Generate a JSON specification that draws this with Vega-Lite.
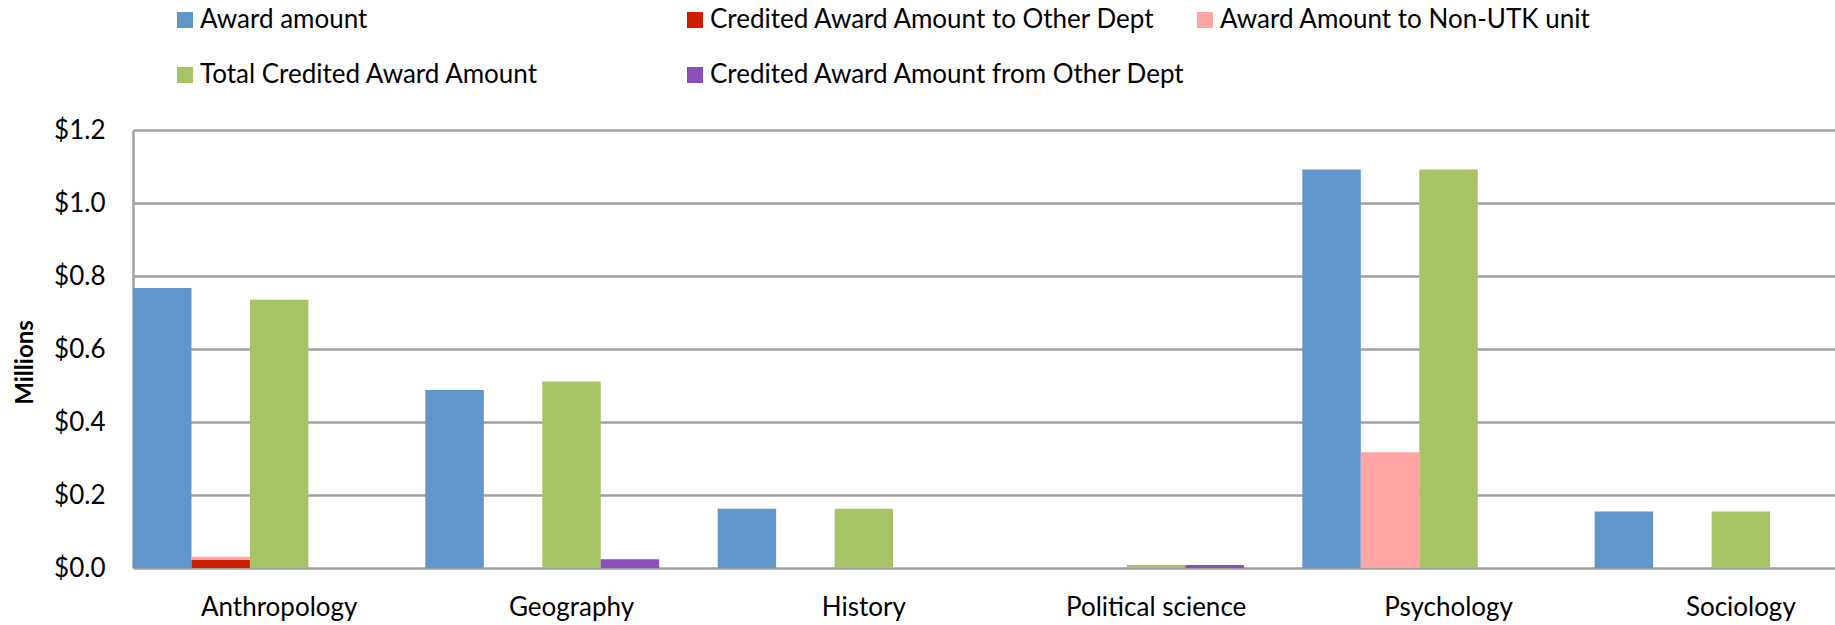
{
  "$schema": "https://vega.github.io/schema/vega-lite/v6.json",
  "width": 1695,
  "height": 438,
  "autosize": {"type": "none"},
  "padding": {"left": 133, "top": 130, "right": 7, "bottom": 57},
  "background": "white",
  "data": {
    "values": [
      {"dept": "Anthropology", "series": "Award amount", "slot": "s1", "value": 0.767},
      {"dept": "Anthropology", "series": "Award Amount to Non-UTK unit", "slot": "s2", "value": 0.031},
      {"dept": "Anthropology", "series": "Credited Award Amount to Other Dept", "slot": "s2", "value": 0.022},
      {"dept": "Anthropology", "series": "Total Credited Award Amount", "slot": "s3", "value": 0.735},
      {"dept": "Geography", "series": "Award amount", "slot": "s1", "value": 0.488},
      {"dept": "Geography", "series": "Total Credited Award Amount", "slot": "s3", "value": 0.511},
      {"dept": "Geography", "series": "Credited Award Amount from Other Dept", "slot": "s4", "value": 0.024},
      {"dept": "History", "series": "Award amount", "slot": "s1", "value": 0.162},
      {"dept": "History", "series": "Total Credited Award Amount", "slot": "s3", "value": 0.162},
      {"dept": "Political science", "series": "Total Credited Award Amount", "slot": "s3", "value": 0.008},
      {"dept": "Political science", "series": "Credited Award Amount from Other Dept", "slot": "s4", "value": 0.008},
      {"dept": "Psychology", "series": "Award amount", "slot": "s1", "value": 1.092},
      {"dept": "Psychology", "series": "Award Amount to Non-UTK unit", "slot": "s2", "value": 0.317},
      {"dept": "Psychology", "series": "Total Credited Award Amount", "slot": "s3", "value": 1.092},
      {"dept": "Sociology", "series": "Award amount", "slot": "s1", "value": 0.155},
      {"dept": "Sociology", "series": "Total Credited Award Amount", "slot": "s3", "value": 0.155}
    ]
  },
  "mark": {"type": "bar"},
  "encoding": {
    "x": {
      "field": "dept",
      "type": "nominal",
      "sort": null,
      "scale": {"range": [0, 1754], "paddingInner": 0, "paddingOuter": 0},
      "axis": {
        "title": null,
        "domain": false,
        "ticks": false,
        "labelAngle": 0,
        "labelFont": "Lato",
        "labelFontSize": 26,
        "labelColor": "#000000",
        "labelPadding": 26,
        "labelLimit": 0
      }
    },
    "xOffset": {
      "field": "slot",
      "type": "nominal",
      "scale": {"domain": ["s1", "s2", "s3", "s4", "s5"], "paddingInner": 0, "paddingOuter": 0}
    },
    "y": {
      "field": "value",
      "type": "quantitative",
      "stack": null,
      "scale": {"domain": [0, 1.2], "nice": false},
      "axis": {
        "title": "Millions",
        "titleFont": "Lato",
        "titleFontSize": 24,
        "titleFontWeight": "bold",
        "titleColor": "#000000",
        "titlePadding": 16,
        "titleY": 232,
        "values": [0, 0.2, 0.4, 0.6, 0.8, 1.0, 1.2],
        "format": "$.1f",
        "labelFont": "Lato",
        "labelFontSize": 26,
        "labelColor": "#000000",
        "labelPadding": 28,
        "ticks": false,
        "domainColor": "#A0A0A0",
        "domainWidth": 2.5,
        "gridColor": "#A0A0A0",
        "gridWidth": 2.5
      }
    },
    "color": {
      "field": "series",
      "type": "nominal",
      "scale": {
        "domain": ["Award amount", "Credited Award Amount to Other Dept", "Award Amount to Non-UTK unit", "Total Credited Award Amount", "Credited Award Amount from Other Dept"],
        "range": ["#6096C9", "#CC1E00", "#FFA6A5", "#A6C465", "#8A4FB8"]
      },
      "legend": {
        "title": null,
        "orient": "none",
        "legendX": 39,
        "legendY": -123,
        "direction": "horizontal",
        "columns": 3,
        "gridAlign": "all",
        "columnPadding": 6,
        "rowPadding": 29,
        "padding": 0,
        "symbolType": "square",
        "symbolSize": 256,
        "symbolStrokeWidth": 0,
        "labelFont": "Lato",
        "labelFontSize": 26,
        "labelColor": "#000000",
        "labelOffset": 2,
        "labelLimit": 0
      }
    }
  },
  "config": {"view": {"stroke": null}}
}
